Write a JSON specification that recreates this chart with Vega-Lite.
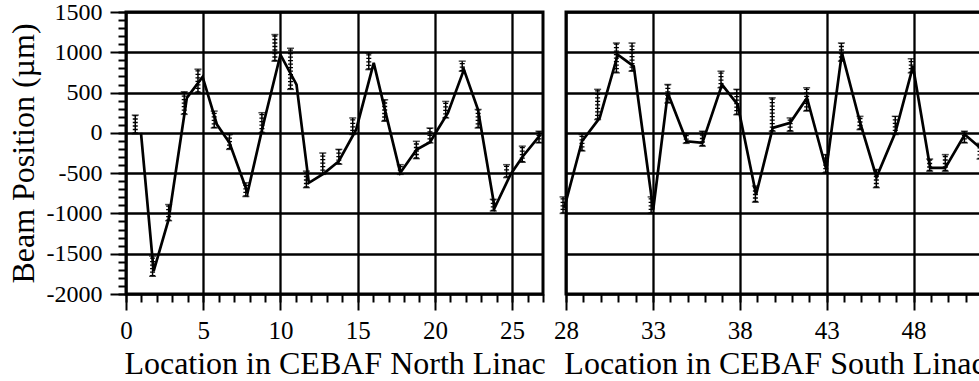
{
  "$schema": "https://vega.github.io/schema/vega-lite/v6.json",
  "background": "white",
  "padding": {"left": 5, "top": -2, "right": 0, "bottom": 0},
  "spacing": 23,
  "bounds": "flush",
  "config": {
    "font": "Liberation Serif, DejaVu Serif, serif",
    "view": {"stroke": "black", "strokeWidth": 3},
    "axis": {
      "domain": false,
      "gridColor": "black", "gridWidth": 2.3, "gridOpacity": 1,
      "tickColor": "black", "tickWidth": 2,
      "labelColor": "black", "titleColor": "black",
      "labelFont": "Liberation Serif, DejaVu Serif, serif", "titleFont": "Liberation Serif, DejaVu Serif, serif",
      "titleFontWeight": "normal",
      "labelFlush": false, "labelOverlap": false, "labelBound": false
    }
  },
  "datasets": {
    "meas_n": [
      {"loc": 0.6, "lo": -10, "hi": 220}, {"loc": 1.72, "lo": -1780, "hi": -1530}, {"loc": 2.76, "lo": -1090, "hi": -890},
      {"loc": 3.77, "lo": 230, "hi": 510}, {"loc": 4.66, "lo": 500, "hi": 790}, {"loc": 5.71, "lo": 60, "hi": 270},
      {"loc": 6.7, "lo": -205, "hi": -20}, {"loc": 7.76, "lo": -790, "hi": -620}, {"loc": 8.8, "lo": 0, "hi": 250},
      {"loc": 9.64, "lo": 890, "hi": 1220}, {"loc": 10.65, "lo": 540, "hi": 1050}, {"loc": 11.68, "lo": -680, "hi": -475},
      {"loc": 12.74, "lo": -515, "hi": -250}, {"loc": 13.78, "lo": -390, "hi": -205}, {"loc": 14.68, "lo": -20, "hi": 185},
      {"loc": 15.72, "lo": 785, "hi": 990}, {"loc": 16.75, "lo": 145, "hi": 410}, {"loc": 17.76, "lo": -515, "hi": -395},
      {"loc": 18.8, "lo": -320, "hi": -105}, {"loc": 19.68, "lo": -125, "hi": 60}, {"loc": 20.7, "lo": 185, "hi": 390},
      {"loc": 21.77, "lo": 765, "hi": 890}, {"loc": 22.8, "lo": 60, "hi": 290}, {"loc": 23.78, "lo": -970, "hi": -825},
      {"loc": 24.64, "lo": -555, "hi": -395}, {"loc": 25.66, "lo": -365, "hi": -165}, {"loc": 26.74, "lo": -125, "hi": 20}
    ],
    "fit_n": [
      {"loc": 0.97, "val": 0}, {"loc": 1.79, "val": -1716}, {"loc": 2.76, "val": -1075}, {"loc": 3.94, "val": 434},
      {"loc": 4.96, "val": 694}, {"loc": 5.89, "val": 103}, {"loc": 6.7, "val": -124}, {"loc": 7.87, "val": -744},
      {"loc": 8.86, "val": 82}, {"loc": 10.0, "val": 971}, {"loc": 11.04, "val": 599}, {"loc": 11.84, "val": -620},
      {"loc": 12.8, "val": -505}, {"loc": 13.78, "val": -352}, {"loc": 14.9, "val": 40}, {"loc": 16.04, "val": 868},
      {"loc": 16.85, "val": 220}, {"loc": 17.76, "val": -496}, {"loc": 18.82, "val": -207}, {"loc": 19.68, "val": -116},
      {"loc": 20.85, "val": 250}, {"loc": 21.88, "val": 785}, {"loc": 22.79, "val": 289}, {"loc": 23.87, "val": -930},
      {"loc": 24.9, "val": -517}, {"loc": 25.7, "val": -290}, {"loc": 26.84, "val": -21}
    ],
    "meas_s": [
      {"loc": 27.83, "lo": -1000, "hi": -795}, {"loc": 28.92, "lo": -225, "hi": -20}, {"loc": 29.82, "lo": 165, "hi": 540},
      {"loc": 30.9, "lo": 745, "hi": 1115}, {"loc": 31.8, "lo": 765, "hi": 1115}, {"loc": 32.9, "lo": -1000, "hi": -795},
      {"loc": 33.86, "lo": 370, "hi": 600}, {"loc": 34.92, "lo": -130, "hi": -10}, {"loc": 35.85, "lo": -165, "hi": 20},
      {"loc": 36.92, "lo": 560, "hi": 765}, {"loc": 37.83, "lo": 225, "hi": 540}, {"loc": 38.9, "lo": -860, "hi": -660},
      {"loc": 39.87, "lo": 20, "hi": 435}, {"loc": 40.9, "lo": 20, "hi": 185}, {"loc": 41.85, "lo": 270, "hi": 560},
      {"loc": 42.95, "lo": -495, "hi": -270}, {"loc": 43.85, "lo": 890, "hi": 1115}, {"loc": 44.92, "lo": 40, "hi": 205},
      {"loc": 45.86, "lo": -680, "hi": -455}, {"loc": 46.95, "lo": -20, "hi": 205}, {"loc": 47.87, "lo": 745, "hi": 920},
      {"loc": 48.93, "lo": -475, "hi": -325}, {"loc": 49.83, "lo": -475, "hi": -270}, {"loc": 50.93, "lo": -125, "hi": 20},
      {"loc": 51.83, "lo": -325, "hi": -130}
    ],
    "fit_s": [
      {"loc": 27.9, "val": -930}, {"loc": 28.92, "val": -104}, {"loc": 29.94, "val": 186}, {"loc": 30.98, "val": 971},
      {"loc": 31.9, "val": 826}, {"loc": 33.02, "val": -951}, {"loc": 33.86, "val": 496}, {"loc": 34.94, "val": -104},
      {"loc": 35.85, "val": -124}, {"loc": 36.98, "val": 599}, {"loc": 37.88, "val": 351}, {"loc": 38.94, "val": -765},
      {"loc": 39.9, "val": 62}, {"loc": 40.9, "val": 124}, {"loc": 41.87, "val": 434}, {"loc": 42.98, "val": -455},
      {"loc": 43.88, "val": 992}, {"loc": 44.95, "val": 110}, {"loc": 45.87, "val": -550}, {"loc": 46.95, "val": 0},
      {"loc": 47.97, "val": 826}, {"loc": 48.96, "val": -434}, {"loc": 49.83, "val": -434}, {"loc": 50.95, "val": -21},
      {"loc": 51.85, "val": -186}
    ]
  },
  "hconcat": [
    {
      "width": 417, "height": 282,
      "resolve": {"scale": {"x": "shared", "y": "shared"}, "axis": {"x": "independent", "y": "independent"}},
      "layer": [
        {
          "data": {"name": "meas_n"},
          "mark": {"type": "rule", "color": "black", "strokeWidth": 1.5},
          "encoding": {
            "x": {"field": "loc", "type": "quantitative", "scale": {"domain": [0, 27], "nice": false, "zero": false},
              "axis": {"orient": "bottom", "values": [0, 5, 10, 15, 20, 25], "labelExpr": "'' + datum.value", "grid": true, "tickSize": 16, "labelFontSize": 25, "labelPadding": 8, "title": "Location in CEBAF North Linac", "titleFontSize": 32, "titlePadding": 5}},
            "y": {"field": "lo", "type": "quantitative", "scale": {"domain": [-2000, 1500], "nice": false, "zero": false},
              "axis": {"orient": "left", "values": [-2000, -1500, -1000, -500, 0, 500, 1000, 1500], "labelExpr": "'' + datum.value", "grid": true, "tickSize": 16, "labelFontSize": 24, "labelPadding": 8, "title": "Beam Position (µm)", "titleFontSize": 32, "titlePadding": 6}},
            "y2": {"field": "hi"}
          }
        },
        {
          "data": {"name": "meas_n"},
          "mark": {"type": "rule", "color": "black", "strokeWidth": 5, "strokeDash": [1.3, 2.2]},
          "encoding": {
            "x": {"field": "loc", "type": "quantitative", "axis": null},
            "y": {"field": "lo", "type": "quantitative", "axis": null},
            "y2": {"field": "hi"}
          }
        },
        {
          "data": {"name": "meas_n"},
          "mark": {"type": "tick", "color": "black", "orient": "horizontal", "size": 7, "thickness": 1.5},
          "encoding": {
            "x": {"field": "loc", "type": "quantitative", "axis": null},
            "y": {"field": "lo", "type": "quantitative", "axis": null}
          }
        },
        {
          "data": {"name": "meas_n"},
          "mark": {"type": "tick", "color": "black", "orient": "horizontal", "size": 7, "thickness": 1.5},
          "encoding": {
            "x": {"field": "loc", "type": "quantitative", "axis": null},
            "y": {"field": "hi", "type": "quantitative", "axis": null}
          }
        },
        {
          "data": {"name": "fit_n"},
          "mark": {"type": "line", "color": "black", "strokeWidth": 2.7},
          "encoding": {
            "x": {"field": "loc", "type": "quantitative",
              "axis": {"orient": "bottom", "values": [0,1,2,3,4,5,6,7,8,9,10,11,12,13,14,15,16,17,18,19,20,21,22,23,24,25,26,27], "grid": false, "labels": false, "tickSize": 8, "title": null}},
            "y": {"field": "val", "type": "quantitative",
              "axis": {"orient": "left", "values": [-2000,-1900,-1800,-1700,-1600,-1500,-1400,-1300,-1200,-1100,-1000,-900,-800,-700,-600,-500,-400,-300,-200,-100,0,100,200,300,400,500,600,700,800,900,1000,1100,1200,1300,1400,1500], "grid": false, "labels": false, "tickSize": 8, "title": null}}
          }
        }
      ]
    },
    {
      "width": 417, "height": 282,
      "resolve": {"scale": {"x": "shared", "y": "shared"}, "axis": {"x": "independent", "y": "independent"}},
      "layer": [
        {
          "data": {"name": "meas_s"},
          "mark": {"type": "rule", "color": "black", "strokeWidth": 1.5},
          "encoding": {
            "x": {"field": "loc", "type": "quantitative", "scale": {"domain": [28, 52], "nice": false, "zero": false},
              "axis": {"orient": "bottom", "values": [28, 33, 38, 43, 48], "labelExpr": "'' + datum.value", "grid": true, "tickSize": 16, "labelFontSize": 25, "labelPadding": 8, "title": "Location in CEBAF South Linac", "titleFontSize": 32, "titlePadding": 5}},
            "y": {"field": "lo", "type": "quantitative", "scale": {"domain": [-2000, 1500], "nice": false, "zero": false},
              "axis": {"orient": "left", "values": [-2000, -1500, -1000, -500, 0, 500, 1000, 1500], "grid": true, "ticks": false, "labels": false, "title": null}},
            "y2": {"field": "hi"}
          }
        },
        {
          "data": {"name": "meas_s"},
          "mark": {"type": "rule", "color": "black", "strokeWidth": 5, "strokeDash": [1.3, 2.2]},
          "encoding": {
            "x": {"field": "loc", "type": "quantitative", "axis": null},
            "y": {"field": "lo", "type": "quantitative", "axis": null},
            "y2": {"field": "hi"}
          }
        },
        {
          "data": {"name": "meas_s"},
          "mark": {"type": "tick", "color": "black", "orient": "horizontal", "size": 7, "thickness": 1.5},
          "encoding": {
            "x": {"field": "loc", "type": "quantitative", "axis": null},
            "y": {"field": "lo", "type": "quantitative", "axis": null}
          }
        },
        {
          "data": {"name": "meas_s"},
          "mark": {"type": "tick", "color": "black", "orient": "horizontal", "size": 7, "thickness": 1.5},
          "encoding": {
            "x": {"field": "loc", "type": "quantitative", "axis": null},
            "y": {"field": "hi", "type": "quantitative", "axis": null}
          }
        },
        {
          "data": {"name": "fit_s"},
          "mark": {"type": "line", "color": "black", "strokeWidth": 2.7},
          "encoding": {
            "x": {"field": "loc", "type": "quantitative",
              "axis": {"orient": "bottom", "values": [28,29,30,31,32,33,34,35,36,37,38,39,40,41,42,43,44,45,46,47,48,49,50,51,52], "grid": false, "labels": false, "tickSize": 8, "title": null}},
            "y": {"field": "val", "type": "quantitative", "axis": null}
          }
        }
      ]
    }
  ]
}
